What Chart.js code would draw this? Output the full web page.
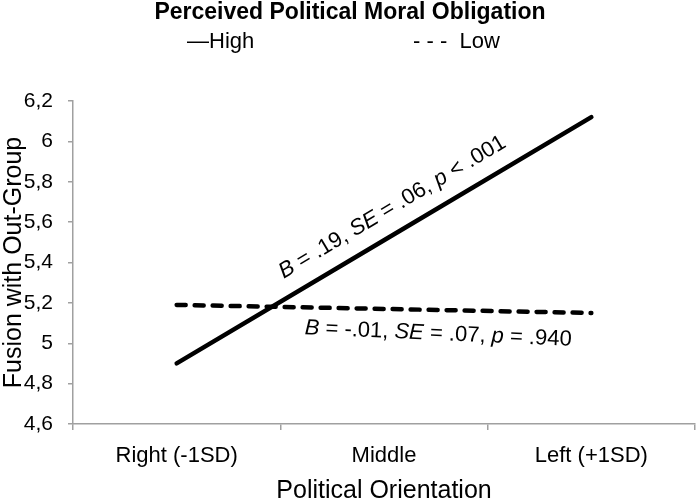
<!DOCTYPE html>
<html>
<head>
<meta charset="utf-8">
<script src="https://cdn.jsdelivr.net/npm/chart.js@4.4.0/dist/chart.umd.min.js"></script>
<style>
    html, body { margin: 0; padding: 0; background: #fff; }
    #wrap { width: 697px; height: 504px; }
</style>
</head>
<body>
<div id="wrap"><canvas id="fusionChart" width="697" height="504"></canvas></div>
<script>
// DATA
const categories = ["Right (-1SD)", "Middle", "Left (+1SD)"];
const highValues = [4.90, 5.51, 6.12];
const lowValues = [5.19, 5.17, 5.15];
const yMin = 4.6;
const yMax = 6.2;
const yStep = 0.2;

// TEXTS
const chartTitle = "Perceived Political Moral Obligation";
const legendLabels = ["\u2014High", "- - -  Low"];
const xTitle = "Political Orientation";
const yTitle = "Fusion with Out-Group";
const highNote = [["B", true], [" = .19, ", false], ["SE", true], [" = .06, ", false], ["p", true], [" < .001", false]];
const lowNote = [["B", true], [" = -.01, ", false], ["SE", true], [" = .07, ", false], ["p", true], [" = .940", false]];

const FONT = "'Liberation Sans', Arial, sans-serif";
const AXIS_GREY = "#a0a0a0";

// MIXED ITALIC TEXT, CENTERED ON (x, y)
function drawRichText(ctx, parts, size, x, y, angle) {
    const fontFor = italic => (italic ? "italic " : "") + size + "px " + FONT;

    ctx.save();
    ctx.translate(x, y);
    ctx.rotate(angle);
    ctx.fillStyle = "#000";
    ctx.textAlign = "left";
    ctx.textBaseline = "alphabetic";

    let total = 0;
    parts.forEach(([txt, it]) => {
        ctx.font = fontFor(it);
        total += ctx.measureText(txt).width;
    });

    let cx = -total / 2;
    parts.forEach(([txt, it]) => {
        ctx.font = fontFor(it);
        ctx.fillText(txt, cx, 0);
        cx += ctx.measureText(txt).width;
    });
    ctx.restore();
}

// point at a fractional index along a dataset's line
function along(pts, f) {
    const i = Math.min(Math.floor(f), pts.length - 2);
    const t = f - i;
    return {
        x: pts[i].x + (pts[i + 1].x - pts[i].x) * t,
        y: pts[i].y + (pts[i + 1].y - pts[i].y) * t
    };
}

// TITLE, LEGEND AND SLOPE NOTES
const notesPlugin = {
    id: "notes",
    afterDatasetsDraw(chart) {
        const ctx = chart.ctx;
        const hi = chart.getDatasetMeta(0).data;
        const lo = chart.getDatasetMeta(1).data;

        const hiAngle = Math.atan2(hi[2].y - hi[0].y, hi[2].x - hi[0].x);
        const p = along(hi, 1.1);
        const d = 18;
        drawRichText(ctx, highNote, 22, p.x + Math.sin(hiAngle) * d, p.y - Math.cos(hiAngle) * d, hiAngle);

        const q = along(lo, 1.26);
        drawRichText(ctx, lowNote, 22, q.x, q.y + 30, 2.5 * Math.PI / 180);
    },
    afterDraw(chart) {
        const ctx = chart.ctx;
        ctx.save();
        ctx.fillStyle = "#000";
        ctx.textBaseline = "middle";

        ctx.font = "bold 23px " + FONT;
        ctx.textAlign = "center";
        ctx.fillText(chartTitle, 350, 13);

        ctx.font = "22px " + FONT;
        ctx.textAlign = "left";
        ctx.fillText(legendLabels[0], 187, 42);
        ctx.fillText(legendLabels[1], 413, 42);
        ctx.restore();
    }
};

// MAIN
new Chart(document.getElementById("fusionChart"), {
    type: "line",
    data: {
        labels: categories,
        datasets: [
            {
                label: "High",
                data: highValues,
                borderColor: "#000",
                borderWidth: 4.5,
                borderCapStyle: "round",
                pointRadius: 0,
                tension: 0
            },
            {
                label: "Low",
                data: lowValues,
                borderColor: "#000",
                borderWidth: 4.5,
                borderDash: [9, 9],
                borderCapStyle: "round",
                pointRadius: 0,
                tension: 0
            }
        ]
    },
    options: {
        responsive: false,
        animation: false,
        devicePixelRatio: 1,
        layout: { padding: { top: 101, right: 2, left: 0, bottom: 0 } },
        plugins: {
            legend: { display: false },
            title: { display: false },
            tooltip: { enabled: false }
        },
        scales: {
            x: {
                offset: true,
                grid: { offset: true, drawOnChartArea: false, tickLength: 6, color: AXIS_GREY, lineWidth: 1.5 },
                border: { color: AXIS_GREY, width: 1.5 },
                ticks: { color: "#000", font: { size: 22, family: FONT }, padding: 13, maxRotation: 0 },
                title: { display: true, text: xTitle, color: "#000", font: { size: 25, family: FONT, lineHeight: 1 }, padding: 0 },
                afterFit: s => { s.height = 80; }
            },
            y: {
                min: yMin,
                max: yMax,
                grid: { drawOnChartArea: false, tickLength: 5, color: AXIS_GREY, lineWidth: 1.5 },
                border: { color: AXIS_GREY, width: 1.5 },
                ticks: {
                    stepSize: yStep,
                    color: "#000",
                    font: { size: 21, family: FONT },
                    padding: 15,
                    callback: v => (Math.round(v * 10) / 10).toString().replace(".", ",")
                },
                title: { display: true, text: yTitle, color: "#000", font: { size: 25, family: FONT, lineHeight: 1 }, padding: { top: 2, bottom: 0 } },
                afterFit: s => { s.width = 73; }
            }
        }
    },
    plugins: [notesPlugin]
});
</script>
</body>
</html>
